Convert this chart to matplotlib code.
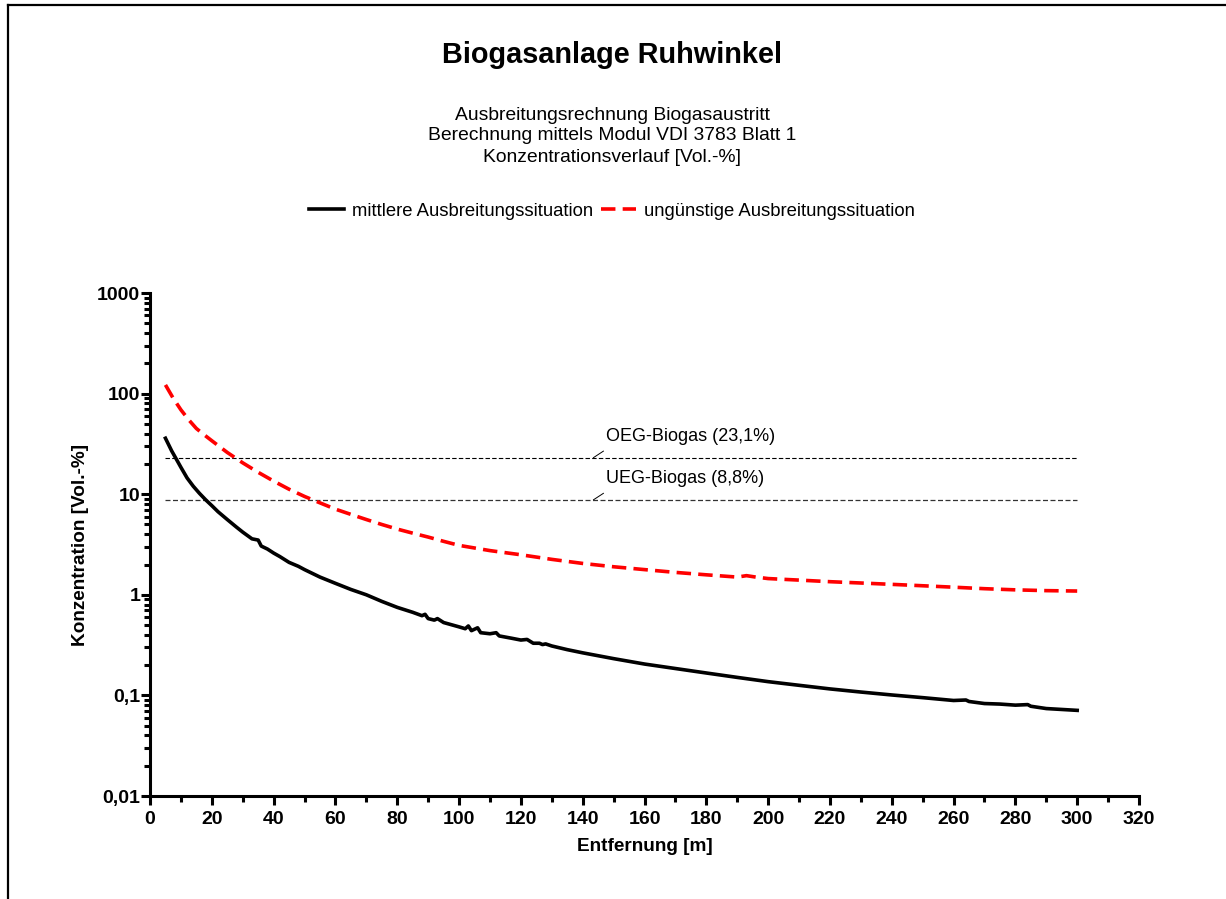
import matplotlib
matplotlib.use("Agg")
import matplotlib.pyplot as plt
from matplotlib.lines import Line2D
from matplotlib.ticker import LogLocator, FixedLocator, MultipleLocator, FuncFormatter

plt.rcParams['font.family'] = ['Liberation Sans', 'DejaVu Sans']

# ---------------- data ----------------
x_mittel = [5, 7, 9, 10, 12, 14, 16, 18, 20, 22, 25, 28, 30, 33, 35, 36, 38, 40, 42, 45,
            48, 50, 55, 60, 65, 70, 75, 80, 85, 88, 89, 90, 92, 93, 95, 100, 102, 103,
            104, 106, 107, 110, 112, 113, 117, 120, 122, 124, 126, 127, 128, 130, 135,
            140, 150, 160, 170, 180, 190, 200, 210, 220, 230, 240, 250, 260, 264, 265,
            270, 275, 280, 284, 285, 290, 300]
y_mittel = [36, 27, 21, 18.5, 14.5, 12, 10.2, 8.8, 7.7, 6.7, 5.6, 4.7, 4.2, 3.6, 3.5, 3.05,
            2.85, 2.6, 2.4, 2.1, 1.92, 1.78, 1.5, 1.3, 1.13, 1.0, 0.86, 0.75, 0.67, 0.62,
            0.64, 0.58, 0.56, 0.58, 0.53, 0.48, 0.46, 0.49, 0.44, 0.47, 0.42, 0.41, 0.42,
            0.39, 0.37, 0.355, 0.36, 0.33, 0.33, 0.32, 0.325, 0.31, 0.285, 0.265, 0.232,
            0.205, 0.185, 0.167, 0.151, 0.137, 0.126, 0.116, 0.108, 0.101, 0.095, 0.089,
            0.090, 0.087, 0.083, 0.082, 0.080, 0.081, 0.078, 0.074, 0.071]

x_unguenstig = [5, 7.5, 10, 12.5, 15, 17.5, 20, 25, 30, 35, 40, 45, 50, 55, 60, 65, 70, 75,
                80, 85, 90, 95, 100, 110, 120, 130, 140, 150, 160, 170, 180, 190, 193, 196,
                200, 210, 220, 230, 240, 250, 260, 270, 280, 290, 300]
y_unguenstig = [122, 90, 69, 55, 45, 39, 34, 26, 20.5, 16.5, 13.5, 11.2, 9.5, 8.2, 7.1, 6.3,
                5.6, 5.0, 4.5, 4.1, 3.75, 3.4, 3.1, 2.75, 2.5, 2.25, 2.05, 1.9, 1.78, 1.67,
                1.58, 1.5, 1.55, 1.5, 1.45, 1.4, 1.35, 1.31, 1.27, 1.23, 1.19, 1.15, 1.12,
                1.1, 1.09]

oeg_value = 23.1
ueg_value = 8.8
limit_x = [5, 300]

x_ticks = list(range(0, 321, 20))
y_ticks = [0.01, 0.1, 1, 10, 100, 1000]
y_ticklabels = ['0,01', '0,1', '1', '10', '100', '1000']

label_mittel = 'mittlere Ausbreitungssituation'
label_unguenstig = 'ungünstige Ausbreitungssituation'

# ---------------- figure ----------------
W, H = 1226, 899
fig = plt.figure(figsize=(W / 100, H / 100), dpi=100)

def fx(px):
    return px / W

def fy(py):
    return 1 - py / H

ax = fig.add_axes([fx(150), fy(796), fx(1139) - fx(150), fy(293) - fy(796)])

ax.plot(x_mittel, y_mittel, color='black', lw=2.6, solid_joinstyle='round',
        label=label_mittel, zorder=4)
ax.plot(x_unguenstig, y_unguenstig, color='#ff0000', lw=2.6, linestyle=(0, (4, 2)),
        label=label_unguenstig, zorder=4)

ax.plot(limit_x, [oeg_value, oeg_value], color='black', lw=0.8, linestyle=(0, (4, 2)), zorder=3)
ax.plot(limit_x, [ueg_value, ueg_value], color='#333333', lw=0.9, linestyle=(0, (4, 2)), zorder=3)

ax.plot([143.5, 146.7], [oeg_value, 26.8], color='black', lw=0.7)
ax.plot([143.5, 146.7], [ueg_value, 10.2], color='black', lw=0.7)
ax.text(147.6, 33.8, 'OEG-Biogas (23,1%)', fontsize=13, ha='left', va='baseline')
ax.text(147.6, 12.9, 'UEG-Biogas (8,8%)', fontsize=13, ha='left', va='baseline')

ax.set_yscale('log')
ax.set_xlim(0, 320)
ax.set_ylim(0.01, 1000)

ax.xaxis.set_major_locator(FixedLocator(x_ticks))
ax.xaxis.set_minor_locator(MultipleLocator(10))
ax.yaxis.set_major_locator(FixedLocator(y_ticks))
ax.yaxis.set_minor_locator(LogLocator(base=10, subs=range(2, 10), numticks=20))
ax.set_yticklabels(y_ticklabels)
ax.yaxis.set_minor_formatter(FuncFormatter(lambda v, p: ''))

for s in ['top', 'right']:
    ax.spines[s].set_visible(False)
for s in ['left', 'bottom']:
    ax.spines[s].set_linewidth(2.2)

ax.tick_params(axis='both', which='major', direction='out', width=2.2, length=6.5,
               labelsize=14)
ax.tick_params(axis='x', which='major', pad=4.5)
ax.tick_params(axis='y', which='major', pad=0.5)
ax.tick_params(axis='both', which='minor', direction='out', width=2.2, length=4.5)
for lab in ax.get_xticklabels() + ax.get_yticklabels():
    lab.set_fontweight('bold')

ax.set_xlabel('Entfernung [m]', fontsize=13.7, fontweight='bold', labelpad=7)
ax.set_ylabel('Konzentration [Vol.-%]', fontsize=13.7, fontweight='bold', labelpad=6)

# titles
fig.text(fx(612), fy(55), 'Biogasanlage Ruhwinkel', fontsize=20.8, fontweight='bold',
         ha='center', va='center')
fig.text(fx(612), fy(116), 'Ausbreitungsrechnung Biogasaustritt', fontsize=13.9,
         ha='center', va='center')
fig.text(fx(612), fy(136), 'Berechnung mittels Modul VDI 3783 Blatt 1', fontsize=13.9,
         ha='center', va='center')
fig.text(fx(612), fy(157), 'Konzentrationsverlauf [Vol.-%]', fontsize=13.9,
         ha='center', va='center')

handles, labels = ax.get_legend_handles_labels()
fig.legend(handles, labels, loc='center', bbox_to_anchor=(fx(612), fy(211)), ncol=2,
           frameon=False, fontsize=13.3, handlelength=1.9, handletextpad=0.4,
           columnspacing=0.45, borderpad=0)

# outer frame
fig.add_artist(Line2D([fx(8), fx(8)], [0, fy(5)], color='black', lw=1.6,
                      transform=fig.transFigure))
fig.add_artist(Line2D([fx(8), 1], [fy(5), fy(5)], color='black', lw=1.6,
                      transform=fig.transFigure))

fig.savefig('out.png', dpi=100)
